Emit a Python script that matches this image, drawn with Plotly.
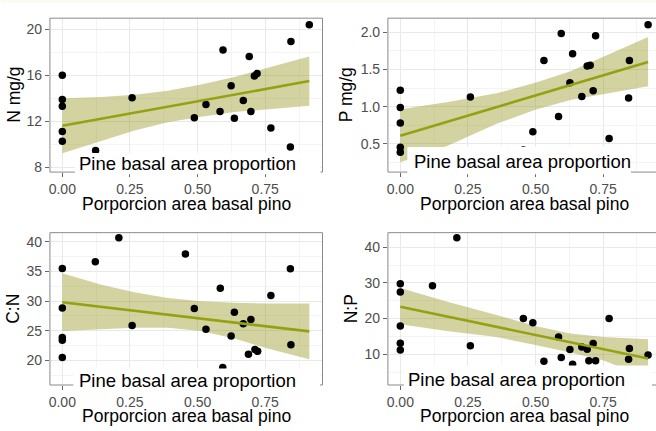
import plotly.graph_objects as go

W, H = 656, 431

# ---------------- data ----------------
n_x = [0, 0, 0, 0, 0, 0.123, 0.258, 0.488, 0.531, 0.583, 0.594, 0.624, 0.636, 0.669, 0.691, 0.697, 0.710, 0.720, 0.771, 0.843, 0.845, 0.913]
n_y = [16.0, 13.9, 13.3, 11.1, 10.25, 9.45, 14.05, 12.3, 13.45, 12.85, 18.2, 15.1, 12.25, 13.8, 17.65, 12.85, 15.95, 16.15, 11.4, 9.75, 18.95, 20.4]
n_fit_x = [0, 0.913]
n_fit_y = [11.6, 15.5]
n_band_x = [0, 0.144, 0.267, 0.39, 0.513, 0.636, 0.759, 0.913]
n_band_hi = [14.0, 14.1, 14.3, 14.65, 15.2, 15.85, 16.65, 17.65]
n_band_lo = [9.2, 10.3, 11.2, 11.9, 12.4, 12.8, 13.05, 13.35]

p_x = [0, 0, 0, 0, 0, 0.259, 0.455, 0.490, 0.531, 0.585, 0.595, 0.627, 0.637, 0.671, 0.691, 0.702, 0.713, 0.722, 0.772, 0.844, 0.847, 0.916]
p_y = [1.22, 0.99, 0.78, 0.455, 0.39, 1.13, 0.42, 0.665, 1.62, 0.87, 1.98, 1.32, 1.71, 1.135, 1.545, 1.555, 1.215, 1.95, 0.575, 1.115, 1.62, 2.10]
p_fit_x = [0, 0.916]
p_fit_y = [0.61, 1.60]
p_band_x = [0, 0.171, 0.356, 0.499, 0.629, 0.752, 0.916]
p_band_hi = [0.965, 1.06, 1.18, 1.32, 1.475, 1.675, 1.935]
p_band_lo = [0.255, 0.47, 0.77, 0.96, 1.09, 1.17, 1.275]

cn_x = [0, 0, 0, 0, 0, 0.122, 0.209, 0.258, 0.455, 0.488, 0.531, 0.584, 0.593, 0.624, 0.636, 0.669, 0.688, 0.697, 0.712, 0.722, 0.771, 0.843, 0.845]
cn_y = [35.5, 28.85, 23.85, 23.4, 20.5, 36.6, 40.65, 25.9, 37.9, 28.75, 25.25, 32.15, 18.8, 24.1, 28.1, 26.2, 21.05, 26.9, 21.85, 21.55, 30.95, 35.45, 22.65]
cn_fit_x = [0, 0.913]
cn_fit_y = [29.8, 24.9]
cn_band_x = [0, 0.144, 0.267, 0.39, 0.513, 0.636, 0.759, 0.913]
cn_band_hi = [34.7, 32.75, 31.5, 30.5, 29.95, 29.7, 29.6, 29.6]
cn_band_lo = [24.95, 25.25, 25.5, 25.5, 24.95, 23.7, 22.0, 20.2]

np_x = [0, 0, 0, 0, 0, 0.119, 0.209, 0.259, 0.455, 0.490, 0.531, 0.585, 0.595, 0.627, 0.637, 0.671, 0.691, 0.697, 0.713, 0.722, 0.772, 0.844, 0.847, 0.916]
np_y = [29.8, 27.45, 17.9, 13.05, 11.2, 29.2, 42.7, 12.4, 20.05, 18.85, 8.05, 14.85, 9.1, 11.3, 7.2, 12.05, 11.4, 8.15, 13.0, 8.15, 20.05, 8.6, 11.6, 9.75]
np_fit_x = [0, 0.916]
np_fit_y = [23.3, 8.8]
np_band_x = [0, 0.171, 0.356, 0.499, 0.629, 0.752, 0.916]
np_band_hi = [28.6, 24.8, 21.0, 17.9, 15.8, 14.85, 14.2]
np_band_lo = [18.4, 16.5, 14.8, 12.6, 10.5, 8.2, 3.4]

x_ticks = [0, 0.25, 0.5, 0.75]
x_title = "Porporcion area basal pino"
overlay_text = "Pine basal area proportion"
y_titles = ["N mg/g", "P mg/g", "C:N", "N:P"]
y_ticks = [[8, 12, 16, 20], [0.5, 1.0, 1.5, 2.0], [20, 25, 30, 35, 40], [10, 20, 30, 40]]
y_minor = [2, 0.25, 2.5, 5]
y_fmt = ["d", ".1f", "d", "d"]

# ---------------- helpers ----------------
def fx(p):
    return p / W

def fy(p):
    return 1 - p / H

FONT = "Liberation Sans, Arial, Helvetica, sans-serif"
LINE_COL = "#94a112"
BAND_COL = "rgba(150,150,30,0.42)"

fig = go.Figure()

panels = [
    (n_x, n_y, n_fit_x, n_fit_y, n_band_x, n_band_hi, n_band_lo),
    (p_x, p_y, p_fit_x, p_fit_y, p_band_x, p_band_hi, p_band_lo),
    (cn_x, cn_y, cn_fit_x, cn_fit_y, cn_band_x, cn_band_hi, cn_band_lo),
    (np_x, np_y, np_fit_x, np_fit_y, np_band_x, np_band_hi, np_band_lo),
]

for i, (xs, ys, fxs, fys, bx, bhi, blo) in enumerate(panels):
    xa = "x" if i == 0 else f"x{i+1}"
    ya = "y" if i == 0 else f"y{i+1}"
    fig.add_trace(go.Scatter(x=bx + bx[::-1], y=bhi + blo[::-1], fill="toself",
                             fillcolor=BAND_COL, line=dict(width=0), mode="lines",
                             hoverinfo="skip", showlegend=False, xaxis=xa, yaxis=ya))
    fig.add_trace(go.Scatter(x=xs, y=ys, mode="markers",
                             marker=dict(color="black", size=7.5),
                             showlegend=False, xaxis=xa, yaxis=ya))
    fig.add_trace(go.Scatter(x=fxs, y=fys, mode="lines",
                             line=dict(color=LINE_COL, width=2.6),
                             showlegend=False, xaxis=xa, yaxis=ya))

# panel geometry (pixels)
left_dom = [fx(49), fx(322)]
right_dom = [fx(387.5), 1.0]
top_dom = [fy(173.3), fy(18.3)]
bot_dom = [fy(387.7), fy(234.3)]
x_rng_full = [-0.0458, 0.9618]
x_rng_cut = [-0.0458, 0.9453]
y_rngs = [[7.567, 20.98], [0.123, 2.187], [15.87, 41.51], [1.36, 44.1]]

def xaxis_style(dom, rng, anchor):
    return dict(domain=dom, range=rng, anchor=anchor, tickvals=x_ticks, tickformat=".2f",
                showgrid=True, gridcolor="#e9e9e9", gridwidth=1,
                minor=dict(dtick=0.125, tick0=0, showgrid=True, gridcolor="#f4f4f4", ticks=""),
                ticks="outside", ticklen=4, tickcolor="#666", tickwidth=1,
                ticklabelstandoff=0,
                tickfont=dict(size=14, color="#4d4d4d", family=FONT),
                showline=False, zeroline=False, fixedrange=True)

def yaxis_style(dom, rng, anchor, i):
    return dict(domain=dom, range=rng, anchor=anchor, tickvals=y_ticks[i], tickformat=y_fmt[i],
                showgrid=True, gridcolor="#e9e9e9", gridwidth=1,
                minor=dict(dtick=y_minor[i], tick0=0, showgrid=True, gridcolor="#f4f4f4", ticks=""),
                ticks="outside", ticklen=4, tickcolor="#666", tickwidth=1,
                tickfont=dict(size=14, color="#4d4d4d", family=FONT),
                showline=False, zeroline=False, fixedrange=True)

layout = dict(
    width=W, height=H, margin=dict(l=0, r=0, t=0, b=0),
    paper_bgcolor="white", plot_bgcolor="white",
    font=dict(family=FONT),
    xaxis=xaxis_style(left_dom, x_rng_full, "y"),
    yaxis=yaxis_style(top_dom, y_rngs[0], "x", 0),
    xaxis2=xaxis_style(right_dom, x_rng_cut, "y2"),
    yaxis2=yaxis_style(top_dom, y_rngs[1], "x2", 1),
    xaxis3=xaxis_style(left_dom, x_rng_full, "y3"),
    yaxis3=yaxis_style(bot_dom, y_rngs[2], "x3", 2),
    xaxis4=xaxis_style(right_dom, x_rng_cut, "y4"),
    yaxis4=yaxis_style(bot_dom, y_rngs[3], "x4", 3),
)
fig.update_layout(**layout)

shapes = []
# faint strip at very top
shapes.append(dict(type="rect", xref="paper", yref="paper", x0=0, x1=1, y0=fy(2.5), y1=1,
                   fillcolor="#fbfbee", line=dict(width=0), layer="above"))
# panel borders
for i in range(4):
    xr = "x domain" if i == 0 else f"x{i+1} domain"
    yr = "y domain" if i == 0 else f"y{i+1} domain"
    x1 = 1 if i in (0, 2) else 1.05
    shapes.append(dict(type="rect", xref=xr, yref=yr, x0=0, x1=x1, y0=0, y1=1,
                       line=dict(color="#8a8a8a", width=1), fillcolor="rgba(0,0,0,0)", layer="above"))
# white overlay boxes
boxes = [(74, 320, 154, 175.5), (407, 631, 148, 175.5), (72.5, 319.5, 371, 393), (403.5, 652, 368, 393)]
for (x0, x1, y0, y1) in boxes:
    shapes.append(dict(type="rect", xref="paper", yref="paper", x0=fx(x0), x1=fx(x1), y0=fy(y1), y1=fy(y0),
                       fillcolor="white", line=dict(width=0), layer="above"))
fig.update_layout(shapes=shapes)

ann = []
# overlay labels
for (xl, yc) in [(76, 164.5), (411.5, 162.5), (76.5, 383), (406, 382)]:
    ann.append(dict(text=overlay_text, xref="paper", yref="paper", x=fx(xl), y=fy(yc),
                    xanchor="left", yanchor="middle", showarrow=False,
                    font=dict(size=18.5, color="black", family=FONT)))
# x titles
for (xc, yc) in [(185.5, 205), (524, 205), (185.5, 419), (524, 419)]:
    ann.append(dict(text=x_title, xref="paper", yref="paper", x=fx(xc), y=fy(yc),
                    xanchor="center", yanchor="middle", showarrow=False,
                    font=dict(size=17.5, color="black", family=FONT)))
# y titles
for t, (xc, yc) in zip(y_titles, [(13, 95.5), (345, 95.5), (12, 311), (350, 311)]):
    ann.append(dict(text=t, xref="paper", yref="paper", x=fx(xc), y=fy(yc), textangle=-90,
                    xanchor="center", yanchor="middle", showarrow=False,
                    font=dict(size=17.5, color="black", family=FONT)))
fig.update_layout(annotations=ann)

fig.write_html("out.html", config={"displayModeBar": False},
               post_script="document.body.style.margin='0';document.body.style.overflow='hidden';")
